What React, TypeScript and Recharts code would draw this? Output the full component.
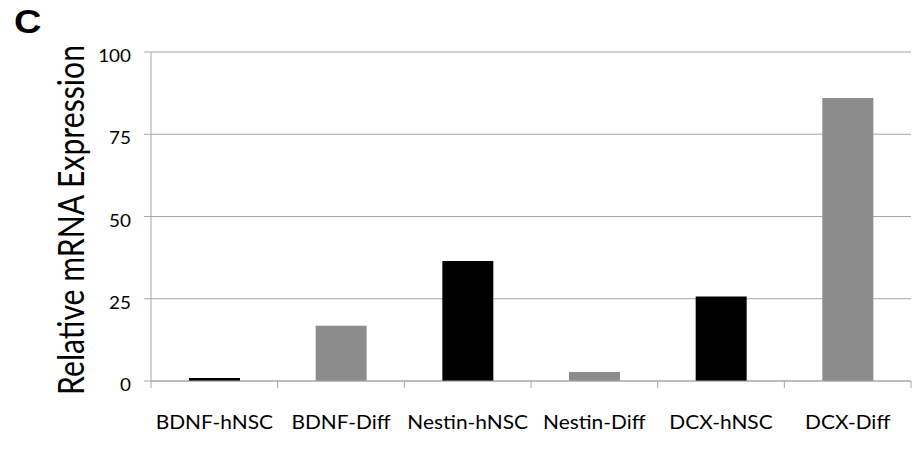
import React from 'react';
import { BarChart, Bar, XAxis, YAxis, CartesianGrid, Cell } from 'recharts';

const categories = ['BDNF-hNSC', 'BDNF-Diff', 'Nestin-hNSC', 'Nestin-Diff', 'DCX-hNSC', 'DCX-Diff'];
const expression = [0.9, 16.8, 36.5, 2.7, 25.7, 86.0];
const yTicks = [0, 25, 50, 75, 100];

const data = categories.map((c, i) => ({ name: c, value: expression[i] }));

const W = 913;
const H = 449;
const M = { top: 52, right: 2, bottom: 38, left: 0 };
const Y_W = 151;
const X_H = 30;
const PLOT_W = W - M.left - M.right - Y_W;
const HALF_STEP = PLOT_W / categories.length / 2;
const GRID = '#a6a6a6';
const FONT = 'Lato, "Open Sans", sans-serif';

const XTick = (props: any) => {
  const { x, y, payload, index } = props;
  const last = index === categories.length - 1;
  return (
    <g>
      <line x1={x - HALF_STEP} x2={x - HALF_STEP} y1={y} y2={y + 7} stroke={GRID} strokeWidth={1} />
      {last && <line x1={x + HALF_STEP} x2={x + HALF_STEP} y1={y} y2={y + 7} stroke={GRID} strokeWidth={1} />}
      <text
        transform={`translate(${x},${y + 48}) scale(1.045,1)`}
        textAnchor="middle"
        fontSize={20}
        fill="#000"
        fontFamily={FONT}
      >
        {payload.value}
      </text>
    </g>
  );
};

const YTick = (props: any) => {
  const { x, y, payload } = props;
  return (
    <text
      transform={`translate(${x},${y + 10}) scale(1.05,1)`}
      textAnchor="end"
      fontSize={18}
      fill="#000"
      fontFamily={FONT}
    >
      {payload.value}
    </text>
  );
};

const YTitle = () => (
  <text
    transform="translate(84,220) scale(1.2,1) rotate(-90)"
    textAnchor="middle"
    fontSize={31}
    fill="#000"
    fontFamily={FONT}
    textLength={350}
    lengthAdjust="spacingAndGlyphs"
  >
    Relative mRNA Expression
  </text>
);

export default function App() {
  return (
    <div style={{ position: 'absolute', left: 0, top: 0, width: W, height: H, background: '#fff' }}>
      <div
        style={{
          position: 'absolute',
          left: 14,
          top: 2,
          fontFamily: '"Liberation Sans", Arial, sans-serif',
          fontWeight: 'bold',
          fontSize: 33,
          lineHeight: '40px',
          color: '#000',
          transform: 'scale(1.15,1)',
          transformOrigin: 'left top',
        }}
      >
        C
      </div>
      <BarChart width={W} height={H} data={data} margin={M} barSize={51}>
        <CartesianGrid vertical={false} stroke={GRID} strokeWidth={1} />
        <XAxis
          dataKey="name"
          height={X_H}
          axisLine={{ stroke: GRID }}
          tickLine={false}
          tickSize={0}
          tickMargin={0}
          interval={0}
          tick={<XTick />}
        />
        <YAxis
          width={Y_W}
          domain={[0, 100]}
          ticks={yTicks}
          interval={0}
          axisLine={{ stroke: GRID }}
          tickLine={{ stroke: GRID }}
          tickSize={7}
          tickMargin={13}
          tick={<YTick />}
          label={{ content: () => <YTitle /> }}
        />
        <Bar dataKey="value" isAnimationActive={false}>
          {data.map((d) => (
            <Cell key={d.name} fill={d.name.endsWith('hNSC') ? '#000000' : '#8c8c8c'} />
          ))}
        </Bar>
      </BarChart>
    </div>
  );
}
